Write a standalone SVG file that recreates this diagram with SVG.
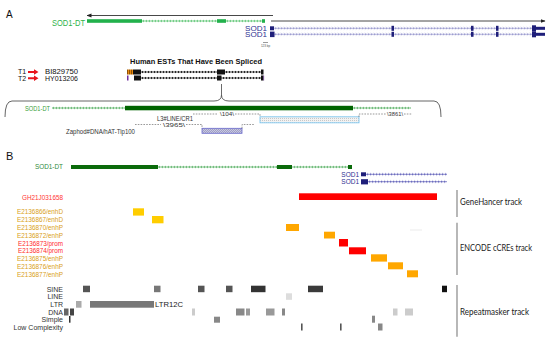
<svg xmlns="http://www.w3.org/2000/svg" width="550" height="341" viewBox="0 0 550 341">
<defs>
<style>
.s{font-family:"Liberation Sans",Arial,sans-serif}
.t{font-family:Lato,"Open Sans",sans-serif;font-size:8.5px;fill:#222}
.dash{stroke:#555;stroke-width:0.6;stroke-dasharray:1.6 1.2;fill:none}
.vl{stroke:#888;stroke-width:1.2}
.enc{font-family:"Liberation Sans",Arial,sans-serif;font-size:7px;fill:#d9a020}
.prm{font-family:"Liberation Sans",Arial,sans-serif;font-size:7px;fill:#ff2a2a}
.rl{font-family:"Liberation Sans",Arial,sans-serif;font-size:7px;fill:#333;text-anchor:end}
</style>
<marker id="ah" viewBox="0 0 10 10" refX="9" refY="5" markerWidth="5" markerHeight="5" orient="auto" markerUnits="userSpaceOnUse"><path d="M0,1 L10,5 L0,9 z" fill="#222"/></marker>
<pattern id="chLg" width="3" height="4" patternUnits="userSpaceOnUse"><path d="M2,0.9 L0.8,2 L2,3.1" fill="none" stroke="#2db34a" stroke-width="0.6"/></pattern>
<pattern id="chLd" width="3" height="4" patternUnits="userSpaceOnUse"><path d="M2,0.9 L0.8,2 L2,3.1" fill="none" stroke="#2a9a3a" stroke-width="0.6"/></pattern>
<pattern id="chRn" width="3" height="4" patternUnits="userSpaceOnUse"><path d="M1,0.8 L2.2,2 L1,3.2" fill="none" stroke="#7070b8" stroke-width="0.6"/></pattern>
<pattern id="chRb" width="3" height="4" patternUnits="userSpaceOnUse"><path d="M1,0.9 L2.2,2 L1,3.1" fill="none" stroke="#3a3aa8" stroke-width="0.6"/></pattern>
<pattern id="chRk" width="3" height="4" patternUnits="userSpaceOnUse"><path d="M0.6,2 L1.5,0.8 L2.4,2 L1.5,3.2 z" fill="#111"/></pattern>
<pattern id="hatch" width="2" height="2" patternUnits="userSpaceOnUse"><rect width="2" height="2" fill="#c8c8e0"/><path d="M0,2 L2,0" stroke="#6060a0" stroke-width="0.4"/></pattern>
<pattern id="dots" width="2" height="2" patternUnits="userSpaceOnUse"><rect width="2" height="2" fill="#f2f2f2"/><rect width="1" height="1" fill="#c8c8c8"/></pattern>
<pattern id="stripes" width="2" height="5" patternUnits="userSpaceOnUse"><rect width="2" height="5" fill="#e88a10"/><rect width="0.7" height="5" fill="#6a3a00"/></pattern>
</defs>
<rect width="550" height="341" fill="#fff"/>

<text class="s" x="6" y="18.3" font-size="10" fill="#111">A</text>
<text class="s" x="6" y="160" font-size="11" fill="#111">B</text>

<g id="connectors">
<line x1="273" y1="15.5" x2="87" y2="15.5" stroke="#333" stroke-width="0.9" marker-end="url(#ah)"/>
<line x1="271" y1="21" x2="545" y2="21" stroke="#333" stroke-width="0.9" marker-end="url(#ah)"/>
<line x1="221.5" y1="84" x2="221.5" y2="95" stroke="#444" stroke-width="0.8"/>
<path d="M5,117 Q5,101 12,101 L214,101 Q221.5,101 221.5,95 Q221.5,101 229,101 L434,101 Q441,101 441,117" fill="none" stroke="#555" stroke-width="0.9"/>
</g>

<g id="sod1dt-top">
<text class="s" x="52" y="25.5" font-size="9" fill="#2db34a" textLength="33" lengthAdjust="spacingAndGlyphs">SOD1-DT</text>
<g transform="translate(142,19)"><line x1="0" y1="2" x2="123" y2="2" stroke="#2db34a" stroke-width="0.6"/><rect width="123" height="4" fill="url(#chLg)"/></g>
<rect x="87" y="19.2" width="55" height="3.6" fill="#22b14c"/>
<rect x="217" y="19.2" width="9" height="3.6" fill="#22b14c"/>
<rect x="262" y="19.2" width="3" height="3.6" fill="#22b14c"/>
</g>

<g id="sod1-top">
<text class="s" x="267" y="30.8" font-size="7" fill="#2e3192" text-anchor="end" textLength="22" lengthAdjust="spacingAndGlyphs">SOD1</text>
<text class="s" x="267" y="37" font-size="7" fill="#2e3192" text-anchor="end" textLength="22" lengthAdjust="spacingAndGlyphs">SOD1</text>
<g transform="translate(274,26.3)"><line x1="0" y1="2" x2="258" y2="2" stroke="#8a8ac8" stroke-width="0.6"/><rect width="258" height="4" fill="url(#chRn)"/></g>
<g transform="translate(274,32.3)"><line x1="0" y1="2" x2="258" y2="2" stroke="#8a8ac8" stroke-width="0.6"/><rect width="258" height="4" fill="url(#chRn)"/></g>
<g fill="#1f1f7a">
<rect x="270" y="26.3" width="4" height="4"/><rect x="270" y="31.6" width="4.5" height="5.5"/>
<rect x="391.5" y="25.8" width="2.5" height="5"/><rect x="391.5" y="31.8" width="2.5" height="5"/>
<rect x="471" y="25.8" width="2.5" height="5"/><rect x="471" y="31.8" width="2.5" height="5"/>
<rect x="496" y="25.8" width="2.5" height="5"/><rect x="496" y="31.8" width="2.5" height="5"/>
<rect x="532" y="25.3" width="4" height="6"/><rect x="536" y="26.8" width="9" height="3"/>
<rect x="532" y="31.3" width="4" height="6"/><rect x="536" y="32.8" width="9" height="3"/>
</g>
<line x1="263" y1="42.5" x2="268" y2="42.5" stroke="#555" stroke-width="0.6"/>
<text class="s" x="265.5" y="47" font-size="3" fill="#555" text-anchor="middle">123 bp</text>
</g>

<g id="ests">
<text class="s" x="130" y="64" font-size="7.5" font-weight="bold" fill="#111" textLength="132" lengthAdjust="spacingAndGlyphs">Human ESTs That Have Been Spliced</text>
<g transform="translate(141,70)"><line x1="0" y1="2" x2="120" y2="2" stroke="#111" stroke-width="0.7"/><rect width="120" height="4" fill="url(#chRk)"/></g>
<g transform="translate(141,76)"><line x1="0" y1="2" x2="120" y2="2" stroke="#111" stroke-width="0.7"/><rect width="120" height="4" fill="url(#chRk)"/></g>
<g transform="translate(127,69.5)"><rect width="6" height="5" fill="url(#stripes)"/></g>
<rect x="127" y="75.5" width="1.5" height="5" fill="#7030a0"/>
<g fill="#111">
<rect x="133" y="69.5" width="8" height="5"/><rect x="217" y="69.5" width="8" height="5"/><rect x="261" y="69.5" width="2.5" height="5"/>
<rect x="134" y="75.5" width="7" height="5"/><rect x="217" y="75.5" width="4.5" height="5"/><rect x="261" y="75.5" width="2.5" height="5"/>
</g>
<rect x="263.5" y="75.5" width="0.6" height="5" fill="#7030a0"/>
</g>

<g id="t1">
<text class="s" x="18" y="74.4" font-size="7" fill="#111">T1</text>
<path d="M28,71 h6 v-1.8 l4.5,2.8 l-4.5,2.8 v-1.8 h-6 z" fill="#e8141c"/>
<text class="s" x="45" y="74.4" font-size="7" fill="#111" textLength="33" lengthAdjust="spacingAndGlyphs">BI829750</text>
</g>
<g id="t2">
<text class="s" x="18" y="81" font-size="7" fill="#111">T2</text>
<path d="M28,77.2 h6 v-1.8 l4.5,2.8 l-4.5,2.8 v-1.8 h-6 z" fill="#e8141c"/>
<text class="s" x="45" y="81" font-size="7" fill="#111" textLength="33" lengthAdjust="spacingAndGlyphs">HY013206</text>
</g>

<g id="sod1dt-zoom">
<text class="s" x="25" y="110.5" font-size="7" fill="#3aa03a" textLength="25" lengthAdjust="spacingAndGlyphs">SOD1-DT</text>
<g transform="translate(52,106)"><line x1="0" y1="2" x2="73" y2="2" stroke="#2a9a3a" stroke-width="0.6"/><rect width="73" height="4" fill="url(#chLd)"/></g>
<rect x="125" y="105.8" width="228" height="4.5" fill="#006400"/>
<g transform="translate(353,106)"><line x1="0" y1="2" x2="58" y2="2" stroke="#2a9a3a" stroke-width="0.6"/><rect width="58" height="4" fill="url(#chLd)"/></g>
</g>

<g id="l3-line">
<text class="s" x="157" y="121.3" font-size="6.5" fill="#333" textLength="36" lengthAdjust="spacingAndGlyphs">L3#LINE/CR1</text>
<path class="dash" d="M193,114 H218 M235,114 H260 V117"/>
<text class="s" x="220" y="116" font-size="6" fill="#333" textLength="14" lengthAdjust="spacingAndGlyphs">\104\</text>
<rect x="260" y="116.8" width="99" height="6" fill="url(#dots)" stroke="#80c8f0" stroke-width="0.9"/>
<path class="dash" d="M359,117 V114 H386 M404,114 H412"/>
<text class="s" x="387" y="116" font-size="6" fill="#333" textLength="16" lengthAdjust="spacingAndGlyphs">\3861\</text>
</g>

<g id="zaphod">
<text class="s" x="66" y="133.5" font-size="6.5" fill="#333" textLength="69" lengthAdjust="spacingAndGlyphs">Zaphod#DNA/hAT-Tip100</text>
<path class="dash" d="M135,124.5 H161 M186,124.5 H202 V128.3"/>
<text class="s" x="163" y="126.5" font-size="6" fill="#333" textLength="22" lengthAdjust="spacingAndGlyphs">\3965\</text>
<rect x="202" y="128.3" width="40" height="5" fill="url(#hatch)" stroke="#6a6acc" stroke-width="0.8"/>
<path class="dash" d="M242,128.3 V124.5 H254"/>
</g>

<g id="sod1dt-b">
<text class="s" x="35" y="169.3" font-size="7.5" fill="#2e8b3e" textLength="28" lengthAdjust="spacingAndGlyphs">SOD1-DT</text>
<g transform="translate(158,165)"><line x1="0" y1="2" x2="190" y2="2" stroke="#2a9a3a" stroke-width="0.6"/><rect width="190" height="4" fill="url(#chLd)"/></g>
<rect x="71" y="165" width="87" height="4" fill="#0b6b0b"/>
<rect x="277" y="165" width="15" height="4" fill="#0b6b0b"/>
<rect x="348" y="165" width="4" height="4" fill="#0b6b0b"/>
</g>

<g id="sod1-b">
<text class="s" x="359" y="176.6" font-size="6.5" fill="#2e3192" text-anchor="end">SOD1</text>
<text class="s" x="359" y="184" font-size="6.5" fill="#2e3192" text-anchor="end">SOD1</text>
<g transform="translate(366,172.3)"><line x1="0" y1="2" x2="81" y2="2" stroke="#3a3aa8" stroke-width="0.6"/><rect width="81" height="4" fill="url(#chRb)"/></g>
<g transform="translate(368,179.7)"><line x1="0" y1="2" x2="79" y2="2" stroke="#3a3aa8" stroke-width="0.6"/><rect width="79" height="4" fill="url(#chRb)"/></g>
<rect x="361" y="172.3" width="5" height="4" fill="#1f1f7a"/>
<rect x="361" y="179.2" width="7" height="5.2" fill="#1f1f7a"/>
</g>

<g id="genehancer">
<text class="s" x="22" y="199.5" font-size="7" fill="#ff3333" textLength="41" lengthAdjust="spacingAndGlyphs">GH21J031658</text>
<rect x="299" y="193.3" width="138" height="6.7" fill="#f00"/>
<line class="vl" x1="457" y1="190" x2="457" y2="217"/>
<text class="t" x="460" y="205" textLength="62" lengthAdjust="spacingAndGlyphs">GeneHancer track</text>
</g>

<g id="encode">
<text class="enc" x="17" y="214.2" textLength="46" lengthAdjust="spacingAndGlyphs">E2136866/enhD</text>
<text class="enc" x="17" y="222.4" textLength="46" lengthAdjust="spacingAndGlyphs">E2136867/enhD</text>
<text class="enc" x="17" y="230.2" textLength="46" lengthAdjust="spacingAndGlyphs">E2136870/enhP</text>
<text class="enc" x="17" y="237.8" textLength="46" lengthAdjust="spacingAndGlyphs">E2136872/enhP</text>
<text class="prm" x="18" y="245.8" textLength="45" lengthAdjust="spacingAndGlyphs">E2136873/prom</text>
<text class="prm" x="18" y="253.2" textLength="45" lengthAdjust="spacingAndGlyphs">E2136874/prom</text>
<text class="enc" x="17" y="260.8" textLength="46" lengthAdjust="spacingAndGlyphs">E2136875/enhP</text>
<text class="enc" x="17" y="268.8" textLength="46" lengthAdjust="spacingAndGlyphs">E2136876/enhP</text>
<text class="enc" x="17" y="276.5" textLength="46" lengthAdjust="spacingAndGlyphs">E2136877/enhP</text>
<rect x="133" y="208.3" width="11" height="7.3" fill="#ffcd00"/>
<rect x="152" y="216" width="11.5" height="7.3" fill="#ffcd00"/>
<rect x="286" y="224" width="13" height="7" fill="#ffa700"/>
<rect x="324" y="231.7" width="11" height="6.8" fill="#ffa700"/>
<rect x="339" y="239" width="9" height="7.5" fill="#f00"/>
<rect x="349" y="247.3" width="17" height="7" fill="#f00"/>
<rect x="371" y="254.3" width="16" height="7.3" fill="#ffa700"/>
<rect x="388" y="262.3" width="15" height="7" fill="#ffa700"/>
<rect x="407" y="270.3" width="11" height="7" fill="#ffa700"/>
<line x1="410" y1="230" x2="422" y2="230" stroke="#e6e6e6" stroke-width="0.8"/>
<line class="vl" x1="457" y1="222.7" x2="457" y2="275"/>
<text class="t" x="460" y="251.3" textLength="72" lengthAdjust="spacingAndGlyphs">ENCODE cCREs track</text>
</g>

<g id="repeatmasker">
<text class="rl" x="63" y="291.5">SINE</text>
<text class="rl" x="63" y="299.2">LINE</text>
<text class="rl" x="63" y="306.8">LTR</text>
<text class="rl" x="63" y="314.5">DNA</text>
<text class="rl" x="63" y="321.8">Simple</text>
<text class="rl" x="63" y="330.2">Low Complexity</text>
<rect x="83" y="285.7" width="7" height="6.5" fill="#555"/>
<rect x="154" y="285.7" width="6.5" height="6.5" fill="#777"/>
<rect x="198" y="285.7" width="6.5" height="6.5" fill="#555"/>
<rect x="226" y="285.7" width="6.5" height="6.5" fill="#555"/>
<rect x="251" y="285.7" width="14.5" height="6.5" fill="#333"/>
<rect x="308" y="285.7" width="15" height="6.5" fill="#3a3a3a"/>
<rect x="442" y="285.7" width="5" height="6.5" fill="#111"/>
<rect x="286" y="293.3" width="6" height="6.5" fill="#ddd"/>
<rect x="76" y="301" width="5.5" height="6.7" fill="#aaa"/>
<rect x="90" y="301" width="64" height="6.7" fill="#777"/>
<text class="s" x="155" y="307.3" font-size="8" fill="#222" textLength="28" lengthAdjust="spacingAndGlyphs">LTR12C</text>
<rect x="64" y="308.5" width="4.5" height="7" fill="#666"/>
<rect x="70" y="308.5" width="4" height="7" fill="#444"/>
<rect x="192" y="308.5" width="3" height="7" fill="#ccc"/>
<rect x="236" y="308.5" width="8.5" height="7" fill="#888"/>
<rect x="246" y="308.5" width="4" height="7" fill="#999"/>
<rect x="266" y="308.5" width="8.5" height="7" fill="#999"/>
<rect x="282" y="308.5" width="3" height="7" fill="#888"/>
<rect x="393" y="308.5" width="4.5" height="7" fill="#ccc"/>
<rect x="405" y="308.5" width="8" height="7" fill="#ccc"/>
<rect x="69" y="316" width="1.5" height="6.7" fill="#333"/>
<rect x="214" y="316.7" width="6" height="6" fill="#888"/>
<rect x="372" y="315.7" width="3" height="7" fill="#888"/>
<rect x="301" y="323.5" width="1.6" height="7" fill="#555"/>
<rect x="340" y="323.5" width="1.6" height="7" fill="#555"/>
<rect x="378" y="323.5" width="4.5" height="7" fill="#888"/>
<line class="vl" x1="457" y1="285" x2="457" y2="336.7"/>
<text class="t" x="460" y="314.7" textLength="69" lengthAdjust="spacingAndGlyphs">Repeatmasker track</text>
</g>
</svg>
